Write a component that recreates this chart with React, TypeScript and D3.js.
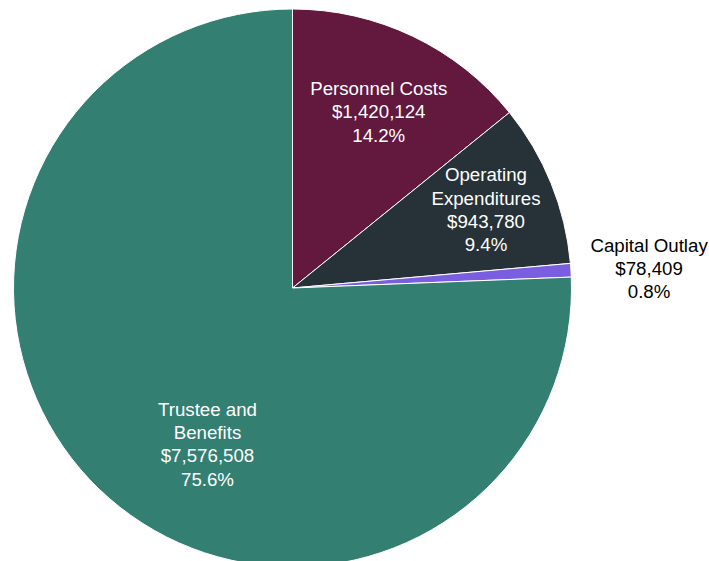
import React from "react";
import * as d3 from "d3";

const categories = ["Personnel Costs", "Operating Expenditures", "Capital Outlay", "Trustee and Benefits"];
const amounts = [1420124, 943780, 78409, 7576508];
const percents = ["14.2%", "9.4%", "0.8%", "75.6%"];
const colors = ["#63183e", "#263238", "#7b5ee0", "#337f72"];
// how each category name wraps in its label
const nameLines = [["Personnel Costs"], ["Operating", "Expenditures"], ["Capital Outlay"], ["Trustee and", "Benefits"]];

const W = 709;
const H = 561;
const CX = 292.5;
const CY = 288;
const R = 279;

// label placement: [angle shift (rad), radius factor]
const labelPlace: [number, number][] = [
  [0.01, 0.703],
  [0.0, 0.748],
  [0.009, 1.28],
  [-0.267, 0.637],
];

const fmt = d3.format("$,");

const App: React.FC = () => {
  const pie = d3.pie<number>().sort(null).value(d => d);
  const arcs = pie(amounts);
  const arc = d3.arc<d3.PieArcDatum<number>>().innerRadius(0).outerRadius(R);

  return (
    <svg width={W} height={H} style={{ position: "absolute", left: 0, top: 0, background: "#fff" }}>
      <g transform={`translate(${CX},${CY})`}>
        {arcs.map((a, i) => (
          <path key={categories[i]} d={arc(a) || ""} fill={colors[i]} stroke="#fff" strokeWidth={1} />
        ))}
        {arcs.map((a, i) => {
          const [shift, rf] = labelPlace[i];
          const ang = (a.startAngle + a.endAngle) / 2 + shift;
          const x = Math.sin(ang) * R * rf;
          const y = -Math.cos(ang) * R * rf;
          const lines = [...nameLines[i], fmt(amounts[i]), percents[i]];
          const lh = 23.3;
          const y0 = y - ((lines.length - 1) * lh) / 2;
          const fill = rf > 1 ? "#000" : "#fff";
          return (
            <text key={i} x={x} textAnchor="middle" fontFamily="'Liberation Sans', Arial, sans-serif" fontSize={18.7} fill={fill}>
              {lines.map((l, j) => (
                <tspan key={j} x={x} y={y0 + j * lh} dy="0.35em">{l}</tspan>
              ))}
            </text>
          );
        })}
      </g>
    </svg>
  );
};

export default App;
